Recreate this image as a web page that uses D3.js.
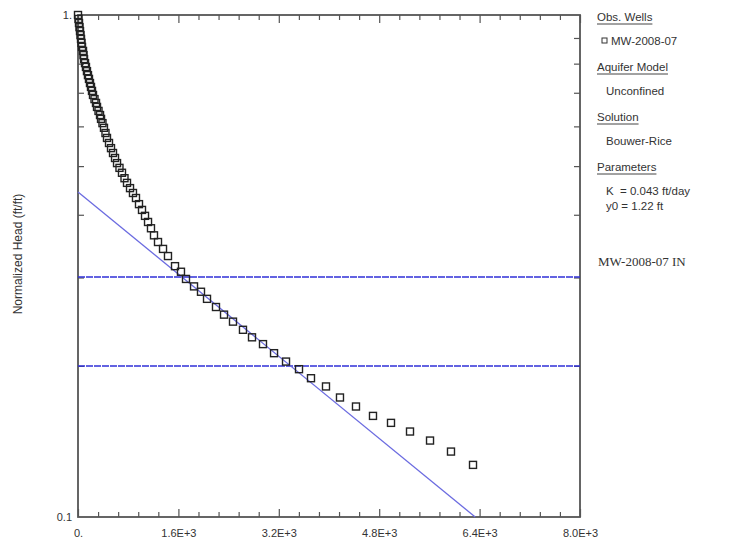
<!DOCTYPE html>
<style>
  body { margin: 0; background: #fff; }
  .sans { font-family: Arial, "Liberation Sans", sans-serif; fill: #333; white-space: pre; }
  .axis .domain { display: none; }
  .axis line { stroke: #555; stroke-width: 1.2; }
  .axis text { font-family: Arial, "Liberation Sans", sans-serif; font-size: 11px; fill: #333; }
</style>
<svg width="753" height="544"></svg>
<script src="https://d3js.org/d3.v7.min.js"></script>
<script>
  // elapsed time (sec) and normalized head (ft/ft)
  var times = [0, 8, 16, 24, 32, 40, 48, 56, 64, 80, 88, 96, 112, 127, 143, 159, 175, 191, 207, 223,
    239, 263, 287, 303, 327, 351, 367, 390, 414, 438, 462, 494, 526, 558, 590, 622, 661, 701, 741, 781,
    829, 876, 924, 972, 1020, 1068, 1116, 1163, 1211, 1275, 1355, 1434, 1546, 1641, 1721, 1849, 1960,
    2056, 2199, 2327, 2470, 2629, 2773, 2948, 3124, 3315, 3522, 3713, 3952, 4175, 4430, 4701, 4988,
    5291, 5610, 5944, 6295];
  var heads = [1.000, 0.982, 0.964, 0.946, 0.929, 0.912, 0.896, 0.880, 0.864, 0.848, 0.832, 0.817, 0.802,
    0.788, 0.773, 0.759, 0.746, 0.732, 0.719, 0.706, 0.693, 0.680, 0.668, 0.656, 0.644, 0.632, 0.621,
    0.609, 0.596, 0.582, 0.569, 0.556, 0.543, 0.531, 0.519, 0.507, 0.496, 0.485, 0.473, 0.463, 0.452,
    0.442, 0.432, 0.420, 0.409, 0.398, 0.387, 0.376, 0.364, 0.353, 0.342, 0.331, 0.316, 0.308, 0.298,
    0.288, 0.281, 0.272, 0.262, 0.253, 0.245, 0.236, 0.228, 0.221, 0.212, 0.204, 0.197, 0.189, 0.182,
    0.173, 0.166, 0.159, 0.154, 0.148, 0.142, 0.135, 0.127];

  // Bouwer-Rice straight line fit
  var fitTimes = [0, 6330];
  var fitHeads = [0.444, 0.1];

  // recommended head range lines
  var rangeHeads = [0.3, 0.2];

  var xTicks = [0, 1600, 3200, 4800, 6400, 8000];
  var xTickLabels = ["0.", "1.6E+3", "3.2E+3", "4.8E+3", "6.4E+3", "8.0E+3"];
  var xMinor = [320, 640, 960, 1280, 1920, 2240, 2560, 2880, 3520, 3840, 4160, 4480,
    5120, 5440, 5760, 6080, 6720, 7040, 7360, 7680];
  var yTicks = [0.1, 1];
  var yTickLabels = ["0.1", "1."];
  var yMinor = [0.2, 0.3, 0.4, 0.5, 0.6, 0.7, 0.8, 0.9];

  var legendItems = [
    { head: "Obs. Wells", body: ["MW-2008-07"], marker: true },
    { head: "Aquifer Model", body: ["Unconfined"] },
    { head: "Solution", body: ["Bouwer-Rice"] },
    { head: "Parameters", body: ["K  = 0.043 ft/day", "y0 = 1.22 ft"] }
  ];

  var svg = d3.select("svg"),
    margin = { top: 15, right: 173, bottom: 27, left: 78 },
    width = +svg.attr("width") - margin.left - margin.right,
    height = +svg.attr("height") - margin.top - margin.bottom;

  var g = svg.append("g")
    .attr("transform", "translate(" + margin.left + "," + margin.top + ")");

  var x = d3.scaleLinear().domain([0, 8000]).range([0, width]);
  var y = d3.scaleLog().domain([0.1, 1]).range([height, 0]);

  // frame
  g.append("rect")
    .attr("width", width)
    .attr("height", height)
    .attr("fill", "none")
    .attr("stroke", "#555")
    .attr("stroke-width", 1.8);

  // bottom axis with labels
  g.append("g").attr("class", "axis")
    .attr("transform", "translate(0," + height + ")")
    .call(d3.axisBottom(x).tickValues(xTicks).tickSize(-8).tickPadding(12)
      .tickFormat(function(d, i) { return xTickLabels[i]; }));
  g.append("g").attr("class", "axis")
    .attr("transform", "translate(0," + height + ")")
    .call(d3.axisBottom(x).tickValues(xMinor).tickSize(-5).tickFormat(""));

  // top axis
  g.append("g").attr("class", "axis")
    .call(d3.axisTop(x).tickValues(xTicks).tickSize(-8).tickFormat(""));
  g.append("g").attr("class", "axis")
    .call(d3.axisTop(x).tickValues(xMinor).tickSize(-5).tickFormat(""));

  // left axis
  g.append("g").attr("class", "axis")
    .call(d3.axisLeft(y).tickValues(yTicks).tickSize(0).tickPadding(6)
      .tickFormat(function(d, i) { return yTickLabels[i]; }));
  g.append("g").attr("class", "axis")
    .call(d3.axisLeft(y).tickValues(yMinor).tickSize(-6).tickFormat(""));

  // right axis
  g.append("g").attr("class", "axis")
    .attr("transform", "translate(" + width + ",0)")
    .call(d3.axisRight(y).tickValues(yMinor).tickSize(-6).tickFormat(""));

  // y axis title
  svg.append("text")
    .attr("class", "sans")
    .attr("transform", "translate(22,254) rotate(-90)")
    .attr("text-anchor", "middle")
    .attr("font-size", 12)
    .text("Normalized Head (ft/ft)");

  // range lines
  g.selectAll(".range")
    .data(rangeHeads)
    .enter().append("line")
    .attr("class", "range")
    .attr("x1", 0)
    .attr("x2", width)
    .attr("y1", function(d) { return Math.round(y(d)); })
    .attr("y2", function(d) { return Math.round(y(d)); })
    .attr("stroke", "#3030d8")
    .attr("stroke-width", 1.4)
    .attr("stroke-dasharray", "7,1");

  // fitted line
  var fit = fitTimes.map(function(t, i) { return [t, fitHeads[i]]; });
  g.append("path")
    .datum(fit)
    .attr("fill", "none")
    .attr("stroke", "#6b6be0")
    .attr("stroke-width", 1.3)
    .attr("d", d3.line()
      .x(function(d) { return x(d[0]); })
      .y(function(d) { return y(d[1]); }));

  // observations
  var obs = times.map(function(t, i) { return [t, heads[i]]; });
  g.selectAll(".obs")
    .data(obs)
    .enter().append("rect")
    .attr("class", "obs")
    .attr("x", function(d) { return x(d[0]) - 3.5; })
    .attr("y", function(d) { return y(d[1]) - 3.5; })
    .attr("width", 7)
    .attr("height", 7)
    .attr("fill", "none")
    .attr("stroke", "#222")
    .attr("stroke-width", 1.4);

  // legend
  var lg = svg.append("g")
    .attr("class", "sans")
    .attr("transform", "translate(597,0)")
    .attr("font-size", 11.5);

  var yPos = 21;
  legendItems.forEach(function(item) {
    var t = lg.append("text").attr("class", "sans").attr("x", 0).attr("y", yPos).text(item.head);
    var w = t.node().getComputedTextLength();
    lg.append("line")
      .attr("x1", 0).attr("x2", w)
      .attr("y1", yPos + 3).attr("y2", yPos + 3)
      .attr("stroke", "#444").attr("stroke-width", 1);
    yPos += 24;
    item.body.forEach(function(line) {
      if (item.marker) {
        lg.append("rect")
          .attr("x", 5).attr("y", yPos - 7)
          .attr("width", 5).attr("height", 5)
          .attr("fill", "none").attr("stroke", "#333");
        lg.append("text").attr("class", "sans").attr("x", 14).attr("y", yPos).text(line);
      } else {
        lg.append("text").attr("class", "sans").attr("x", 9).attr("y", yPos).text(line);
      }
      yPos += 15;
    });
    yPos += 11;
  });

  svg.append("text")
    .attr("x", 598)
    .attr("y", 266)
    .style("font-family", "'Liberation Serif', 'Times New Roman', serif")
    .style("fill", "#333")
    .attr("font-size", 13)
    .text("MW-2008-07 IN");
</script>
